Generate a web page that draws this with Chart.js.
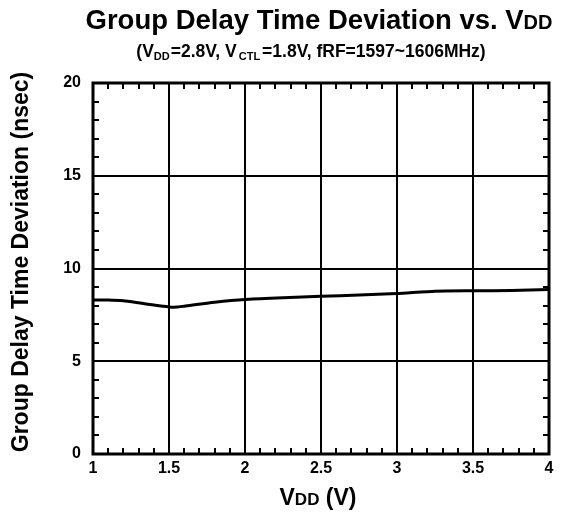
<!DOCTYPE html>
<html>
<head>
<meta charset="utf-8">
<title>Group Delay Time Deviation vs. VDD</title>
<script src="https://cdn.jsdelivr.net/npm/chart.js@4.4.0/dist/chart.umd.min.js"></script>
<style>
  html, body { margin: 0; padding: 0; background: #fff; }
</style>
</head>
<body>
<canvas id="chart" width="575" height="517"></canvas>
<script>
// supply voltage sweep (V) and measured group delay deviation (nsec)
const vddValues      = [1.0, 1.1, 1.2, 1.3, 1.4, 1.5, 1.55, 1.6, 1.8, 2.0, 2.25, 2.5, 2.75, 3.0, 3.25, 3.5, 3.75, 4.0];
const delayDeviation = [8.30, 8.30, 8.26, 8.15, 8.03, 7.93, 7.92, 7.97, 8.18, 8.33, 8.42, 8.50, 8.57, 8.65, 8.78, 8.80, 8.81, 8.87];

const xRange = [1, 4];
const yRange = [0, 20];
const xMajorStep = 0.5;
const yMajorStep = 5;
const xMinorStep = 0.1;
const yMinorStep = 1;

const FONT = '"Liberation Sans", Arial, sans-serif';

// draws a row of text pieces (some smaller / shifted) centred on cx
function drawRuns(ctx, runs, cx, baseline) {
    let total = 0;
    runs.forEach(r => {
        ctx.font = `bold ${r.size}px ${FONT}`;
        r.w = ctx.measureText(r.text).width + (r.gap || 0);
        total += r.w;
    });
    let x = cx - total / 2;
    ctx.textAlign = 'left';
    ctx.textBaseline = 'alphabetic';
    runs.forEach(r => {
        ctx.font = `bold ${r.size}px ${FONT}`;
        ctx.fillText(r.text, x, baseline + (r.dy || 0));
        x += r.w;
    });
}

const frameAndTitles = {
    id: 'frameAndTitles',
    afterDatasetsDraw(chart) {
        const ctx = chart.ctx;
        const area = chart.chartArea;
        const xs = chart.scales.x;
        const ys = chart.scales.y;
        ctx.save();
        ctx.strokeStyle = '#000';

        // minor ticks, pointing inward on all four sides
        ctx.lineWidth = 2;
        const tickLen = 6;
        ctx.beginPath();
        for (let v = xRange[0] + xMinorStep; v < xRange[1] - 1e-9; v += xMinorStep) {
            if (Math.abs(v / xMajorStep - Math.round(v / xMajorStep)) < 1e-6) continue;
            const px = Math.round(xs.getPixelForValue(v));
            ctx.moveTo(px, area.bottom);
            ctx.lineTo(px, area.bottom - tickLen);
            ctx.moveTo(px, area.top);
            ctx.lineTo(px, area.top + tickLen);
        }
        for (let v = yRange[0] + yMinorStep; v < yRange[1]; v += yMinorStep) {
            if (v % yMajorStep === 0) continue;
            const py = Math.round(ys.getPixelForValue(v));
            ctx.moveTo(area.left, py);
            ctx.lineTo(area.left + tickLen, py);
            ctx.moveTo(area.right, py);
            ctx.lineTo(area.right - tickLen, py);
        }
        ctx.stroke();

        // plot frame
        ctx.lineWidth = 3;
        ctx.strokeRect(area.left, area.top, area.right - area.left, area.bottom - area.top);

        ctx.fillStyle = '#000';
        // main title
        drawRuns(ctx, [
            { text: 'Group Delay Time Deviation vs. V', size: 27.5 },
            { text: 'DD', size: 20 }
        ], 319, 29);

        // conditions line
        drawRuns(ctx, [
            { text: '(V', size: 17.5 },
            { text: 'DD', size: 11, dy: 3, gap: 1 },
            { text: '=2.8V, V', size: 17.5, gap: 2 },
            { text: 'CTL', size: 11, dy: 3, gap: 2 },
            { text: '=1.8V, fRF=1597~1606MHz)', size: 17.5 }
        ], 311, 57);

        // x axis title
        drawRuns(ctx, [
            { text: 'V', size: 23 },
            { text: 'DD', size: 17 },
            { text: ' (V)', size: 23 }
        ], 318, 505);

        // y axis title
        ctx.translate(28, 262);
        ctx.rotate(-Math.PI / 2);
        drawRuns(ctx, [
            { text: 'Group Delay Time Deviation (nsec)', size: 23 }
        ], 0, 0);

        ctx.restore();
    }
};

const points = vddValues.map((v, i) => ({ x: v, y: delayDeviation[i] }));

new Chart(document.getElementById('chart'), {
    type: 'scatter',
    data: {
        datasets: [{
            data: points,
            showLine: true,
            borderColor: '#000',
            borderWidth: 3,
            pointRadius: 0,
            tension: 0.2,
            fill: false
        }]
    },
    options: {
        responsive: false,
        animation: false,
        layout: { padding: { top: 83, right: 26, left: 0, bottom: 0 } },
        plugins: {
            legend: { display: false },
            tooltip: { enabled: false }
        },
        scales: {
            x: {
                type: 'linear',
                min: xRange[0],
                max: xRange[1],
                afterFit(scale) { scale.height = 63; },
                border: { display: false },
                grid: { color: '#000', lineWidth: 2, drawTicks: false },
                ticks: {
                    stepSize: xMajorStep,
                    padding: 5,
                    color: '#000',
                    font: { family: FONT, size: 16, weight: 'bold' },
                    callback: v => String(v)
                }
            },
            y: {
                type: 'linear',
                min: yRange[0],
                max: yRange[1],
                afterFit(scale) { scale.width = 93; },
                border: { display: false },
                grid: { color: '#000', lineWidth: 2, drawTicks: false },
                ticks: {
                    stepSize: yMajorStep,
                    padding: 12,
                    color: '#000',
                    font: { family: FONT, size: 16, weight: 'bold' }
                }
            }
        }
    },
    plugins: [frameAndTitles]
});
</script>
</body>
</html>
